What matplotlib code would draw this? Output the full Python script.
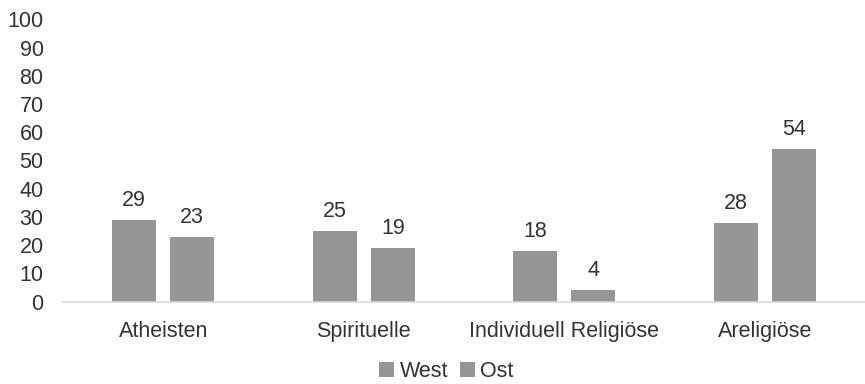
import numpy as np
import matplotlib.pyplot as plt

plt.rcParams['font.family'] = ['Liberation Sans', 'DejaVu Sans']

categories = ['Atheisten', 'Spirituelle', 'Individuell Religiöse', 'Areligiöse']
west = [29, 25, 18, 28]
ost = [23, 19, 4, 54]
series_names = ['West', 'Ost']

bar_color = '#959595'
text_color = '#333333'

fig = plt.figure(figsize=(8.65, 3.84), dpi=100)
ax = fig.add_axes([0.0728, 0.2148, 0.9272, 0.7345])

x = np.arange(len(categories))
w = 0.22
off = 0.145
b1 = ax.bar(x - off, west, w, color=bar_color, label=series_names[0])
b2 = ax.bar(x + off, ost, w, color=bar_color, label=series_names[1])

for bars in (b1, b2):
    ax.bar_label(bars, padding=6.5, fontsize=15.5, color=text_color)

ax.set_xlim(-0.5, 3.5)
ax.set_ylim(0, 100)
ax.set_yticks(range(0, 101, 10))
ax.set_xticks(x)
ax.set_xticklabels(categories)
ax.tick_params(axis='both', length=0, labelsize=15.5, colors=text_color)
ax.tick_params(axis='y', pad=14)
ax.tick_params(axis='x', pad=14)

for side in ('top', 'right', 'left'):
    ax.spines[side].set_visible(False)
ax.spines['bottom'].set_color('#d9d9d9')
ax.spines['bottom'].set_linewidth(1.2)

fig.legend(loc='lower center', bbox_to_anchor=(0.516, -0.045), ncol=2,
           frameon=False, fontsize=15.5, handlelength=0.7, handleheight=0.7,
           handletextpad=0.25, columnspacing=0.55, labelcolor=text_color)

fig.savefig('out.png', dpi=100)
